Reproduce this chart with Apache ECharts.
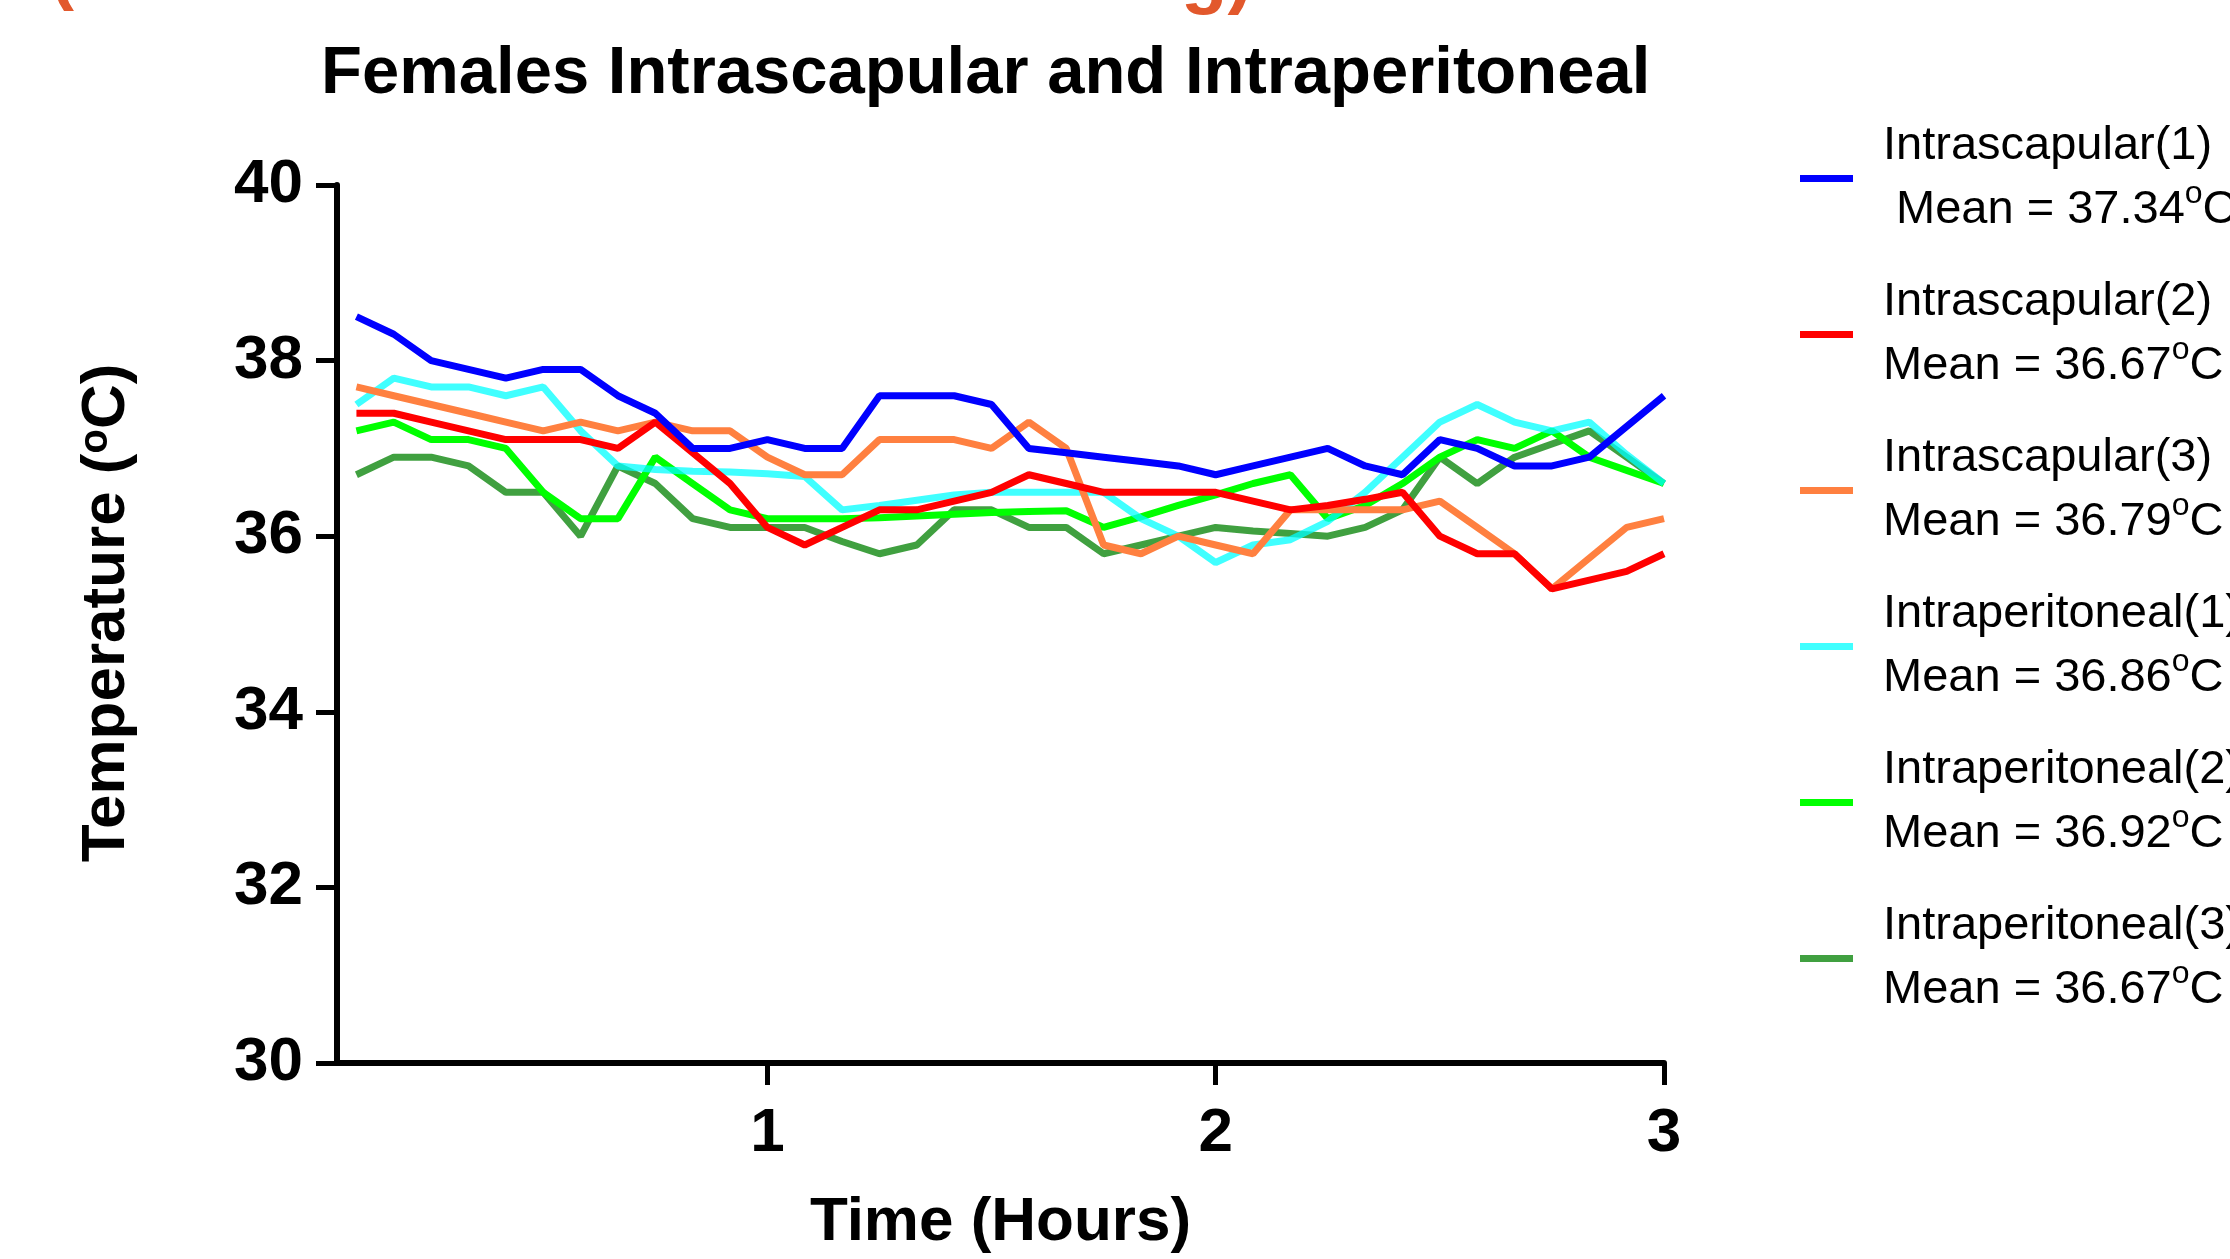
<!DOCTYPE html>
<html>
<head>
<meta charset="utf-8">
<title>Females Intrascapular and Intraperitoneal</title>
<script src="https://cdn.jsdelivr.net/npm/echarts@6/dist/echarts.min.js"></script>
<style>
  html, body { margin: 0; padding: 0; background: #fff; }
  #chart { width: 2230px; height: 1259px; }
</style>
</head>
<body>
<div id="chart"></div>
<script>
// sample times, minutes after start
const minutes = [5, 10, 15, 20, 25, 30, 35, 40, 45, 50, 55, 60,
  65, 70, 75, 80, 85, 90, 95, 100, 105, 110, 115, 120,
  125, 130, 135, 140, 145, 150, 155, 160, 165, 170, 175, 180];

const names = ['Intrascapular(1)', 'Intrascapular(2)', 'Intrascapular(3)',
  'Intraperitoneal(1)', 'Intraperitoneal(2)', 'Intraperitoneal(3)'];
const means = ['37.34', '36.67', '36.79', '36.86', '36.92', '36.67'];
const colors = ['#0000ff', '#ff0000', '#ff8040', 'rgba(0,255,255,0.75)', '#00ff00', 'rgba(0,128,0,0.75)'];

const intrascapular1 = [38.5, 38.3, 38.0, 37.9, 37.8, 37.9, 37.9, 37.6, 37.4, 37.0, 37.0, 37.1,
  37.0, 37.0, 37.6, 37.6, 37.6, 37.5, 37.0, 36.95, 36.9, 36.85, 36.8, 36.7,
  36.8, 36.9, 37.0, 36.8, 36.7, 37.1, 37.0, 36.8, 36.8, 36.9, 37.25, 37.6];
const intrascapular2 = [37.4, 37.4, 37.3, 37.2, 37.1, 37.1, 37.1, 37.0, 37.3, 36.95, 36.6, 36.1,
  35.9, 36.1, 36.3, 36.3, 36.4, 36.5, 36.7, 36.6, 36.5, 36.5, 36.5, 36.5,
  36.4, 36.3, 36.35, 36.42, 36.5, 36.0, 35.8, 35.8, 35.4, 35.5, 35.6, 35.8];
const intrascapular3 = [37.7, 37.6, 37.5, 37.4, 37.3, 37.2, 37.3, 37.2, 37.3, 37.2, 37.2, 36.9,
  36.7, 36.7, 37.1, 37.1, 37.1, 37.0, 37.3, 37.0, 35.9, 35.8, 36.0, 35.9,
  35.8, 36.3, 36.3, 36.3, 36.3, 36.4, 36.1, 35.8, 35.4, 35.75, 36.1, 36.2];
const intraperitoneal1 = [37.5, 37.8, 37.7, 37.7, 37.6, 37.7, 37.2, 36.8, 36.76, 36.74, 36.73, 36.71,
  36.68, 36.3, 36.35, 36.41, 36.47, 36.5, 36.5, 36.5, 36.5, 36.2, 36.0, 35.7,
  35.9, 35.96, 36.17, 36.5, 36.9, 37.3, 37.5, 37.3, 37.2, 37.3, 36.93, 36.6];
const intraperitoneal2 = [37.2, 37.3, 37.1, 37.1, 37.0, 36.5, 36.2, 36.2, 36.9, 36.6, 36.3, 36.2,
  36.2, 36.2, 36.21, 36.23, 36.25, 36.27, 36.28, 36.29, 36.1, 36.22, 36.35, 36.47,
  36.6, 36.7, 36.2, 36.35, 36.6, 36.9, 37.1, 37.0, 37.2, 36.9, 36.75, 36.6];
const intraperitoneal3 = [36.7, 36.9, 36.9, 36.8, 36.5, 36.5, 36.0, 36.8, 36.6, 36.2, 36.1, 36.1,
  36.1, 35.94, 35.8, 35.9, 36.3, 36.3, 36.1, 36.1, 35.8, 35.9, 36.0, 36.1,
  36.06, 36.03, 36.0, 36.1, 36.3, 36.9, 36.6, 36.9, 37.05, 37.2, 36.9, 36.6];

const allValues = [intrascapular1, intrascapular2, intrascapular3,
  intraperitoneal1, intraperitoneal2, intraperitoneal3];

const font = 'Liberation Sans, Arial, sans-serif';

const series = allValues.map((vals, i) => ({
  name: names[i],
  type: 'line',
  symbol: 'none',
  z: 10 - i, // first data set drawn on top
  color: colors[i],
  lineStyle: { width: 7, color: colors[i] },
  data: minutes.map((m, k) => [m / 60, vals[k]])
}));

const chart = echarts.init(document.getElementById('chart'));
chart.setOption({
  animation: false,
  backgroundColor: '#fff',
  grid: { left: 337, right: 566, top: 185, bottom: 194 },
  graphic: [
    { type: 'text', left: 984 - 663, top: 41,
      style: { text: 'Females Intrascapular and Intraperitoneal', fill: '#000',
        font: 'bold 67px ' + font } },
    // bits of an orange heading cut off at the top of the image
    { type: 'text', x: 50, y: -60,
      style: { text: '(', fill: '#e2582c', font: 'bold 72px ' + font } },
    { type: 'text', x: 1181, y: -60,
      style: { text: 'g)', fill: '#e2582c', font: 'bold 76px ' + font } }
  ],
  legend: {
    orient: 'vertical',
    left: 1800,
    top: 123,
    padding: 0,
    itemWidth: 53,
    itemHeight: 7,
    itemGap: 45,
    icon: 'rect',
    data: names,
    textStyle: { padding: [0, 0, 0, 25], rich: {
      t: { fontFamily: font, fontSize: 47, lineHeight: 64, color: '#000' },
      s: { fontFamily: font, fontSize: 32, lineHeight: 30, verticalAlign: 'top', color: '#000' }
    } },
    formatter: function (name) {
      const i = names.indexOf(name);
      const lead = i === 0 ? ' ' : '';
      return '{t|' + name + '}\n{t|' + lead + 'Mean = ' + means[i] + '}{s|o}{t|C}';
    }
  },
  xAxis: {
    type: 'value',
    min: 0.04,
    max: 3,
    name: 'Time (Hours)',
    nameLocation: 'middle',
    nameGap: 129,
    nameTextStyle: { fontFamily: font, fontWeight: 'bold', fontSize: 62, color: '#000' },
    splitLine: { show: false },
    axisLine: { lineStyle: { color: '#000', width: 6 } },
    axisTick: { length: 22, lineStyle: { color: '#000', width: 5 }, customValues: [1, 2, 3] },
    axisLabel: { margin: 40, fontFamily: font, fontWeight: 'bold', fontSize: 62, color: '#000',
      customValues: [1, 2, 3] }
  },
  yAxis: {
    type: 'value',
    min: 30,
    max: 40,
    interval: 2,
    name: '{t|Temperature (}{s|o}{t|C)}',
    nameLocation: 'middle',
    nameRotate: 90,
    nameGap: 199,
    nameTextStyle: { padding: [0, 0, 0, 22], rich: {
      t: { fontFamily: font, fontWeight: 'bold', fontSize: 62, color: '#000' },
      s: { fontFamily: font, fontWeight: 'bold', fontSize: 40, lineHeight: 40, verticalAlign: 'top', color: '#000' }
    } },
    splitLine: { show: false },
    axisLine: { show: true, lineStyle: { color: '#000', width: 6 } },
    axisTick: { show: true, length: 21, lineStyle: { color: '#000', width: 5 } },
    axisLabel: { margin: 34, fontFamily: font, fontWeight: 'bold', fontSize: 62, color: '#000' }
  },
  series: series
});
</script>
</body>
</html>
